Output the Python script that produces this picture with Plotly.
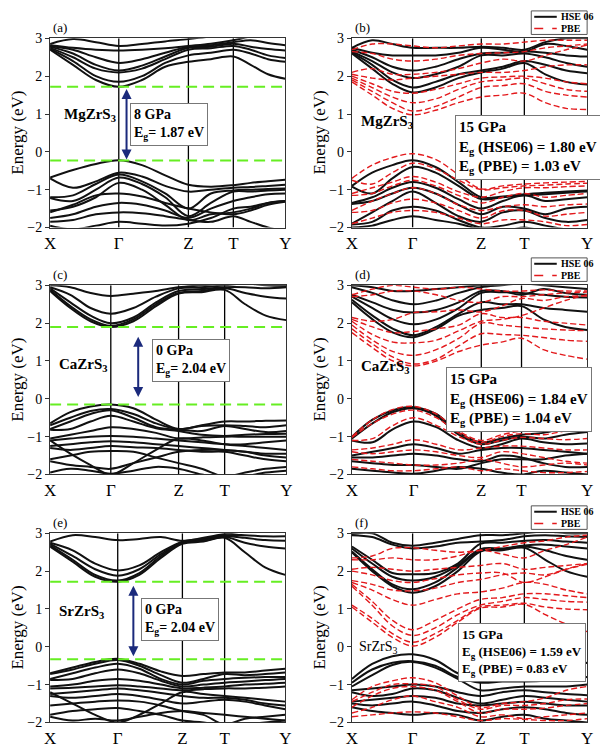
import plotly.graph_objects as go

W, H = 600, 752
FONT = "Liberation Serif"

KLABELS = ["X", "Γ", "Z", "T", "Y"]
# fractional positions of high-symmetry points along each panel's path
K_A = [0, 0.292, 0.588, 0.779, 1]
K_B = [0, 0.258, 0.550, 0.733, 1]
K_C = [0, 0.257, 0.544, 0.739, 1]
K_D = [0, 0.2625, 0.550, 0.721, 1]
K_E = [0, 0.2875, 0.5625, 0.742, 1]
K_F = [0, 0.258, 0.546, 0.733, 1]
# sampling of each segment (X-Γ, Γ-Z, Z-T, T-Y)
SEG_FRACS = [[0, 1/3, 2/3], [0, 1/3, 2/3], [0, 0.5], [0, 1/3, 2/3]]

# ---- band energies (eV) at samples: X,.,.,Γ,.,.,Z,.,T,.,.,Y ----
A_CB = [[2.70, 2.30, 1.90, 1.72, 1.90, 2.25, 2.38, 2.45, 2.52, 2.30, 2.05, 1.93],
        [2.72, 2.40, 2.00, 1.85, 2.00, 2.35, 2.55, 2.62, 2.70, 2.60, 2.45, 2.38],
        [2.75, 2.50, 2.20, 2.10, 2.20, 2.45, 2.70, 2.74, 2.80, 2.70, 2.55, 2.48],
        [2.78, 2.60, 2.30, 2.15, 2.28, 2.52, 2.75, 2.78, 2.86, 2.78, 2.72, 2.68],
        [2.80, 2.70, 2.50, 2.35, 2.45, 2.62, 2.78, 2.82, 2.90, 2.95, 2.88, 2.82],
        [2.82, 2.75, 2.70, 2.68, 2.70, 2.74, 2.80, 2.86, 2.95, 3.05, 3.10, 3.10],
        [2.85, 2.98, 2.90, 2.80, 2.85, 2.92, 2.98, 3.05, 3.10, 3.15, 3.15, 3.15]]
A_VB = [[-0.68, -0.48, -0.32, -0.22, -0.35, -0.62, -0.87, -0.92, -0.88, -0.82, -0.78, -0.74],
        [-0.70, -0.95, -0.78, -0.55, -0.65, -0.90, -1.05, -1.00, -0.95, -0.93, -0.90, -0.87],
        [-1.20, -1.15, -0.85, -0.60, -0.78, -1.10, -1.50, -1.10, -1.02, -1.00, -0.98, -0.97],
        [-1.22, -1.30, -1.00, -0.68, -0.85, -1.20, -1.70, -1.35, -1.05, -1.05, -1.02, -1.00],
        [-1.55, -1.45, -1.20, -0.82, -1.00, -1.40, -1.80, -1.65, -1.60, -1.50, -1.35, -1.30],
        [-1.60, -1.40, -1.15, -1.10, -1.18, -1.35, -1.50, -1.60, -1.65, -1.55, -1.40, -1.32],
        [-1.75, -1.65, -1.45, -1.35, -1.40, -1.55, -1.75, -1.50, -1.30, -1.20, -1.12, -1.10],
        [-1.85, -1.80, -1.65, -1.60, -1.62, -1.70, -1.80, -1.85, -1.70, -1.85, -2.00, -2.10],
        [-1.95, -2.05, -1.95, -1.85, -1.90, -1.95, -1.90, -1.75, -1.50, -1.45, -1.35, -1.30]]

B_HSE_CB = [[2.60, 2.20, 1.80, 1.57, 1.70, 1.95, 2.10, 2.20, 2.35, 2.05, 1.85, 1.78],
            [2.62, 2.30, 1.90, 1.70, 1.85, 2.05, 2.15, 2.25, 2.40, 2.30, 2.15, 2.08],
            [2.65, 2.40, 2.10, 1.95, 2.05, 2.25, 2.55, 2.55, 2.60, 2.50, 2.35, 2.25],
            [2.70, 2.50, 2.25, 2.15, 2.25, 2.45, 2.60, 2.62, 2.65, 2.62, 2.55, 2.52],
            [2.75, 2.62, 2.55, 2.55, 2.55, 2.62, 2.75, 2.70, 2.65, 2.85, 2.80, 2.70],
            [2.75, 2.95, 2.85, 2.75, 2.75, 2.75, 2.78, 2.75, 2.70, 2.90, 3.00, 3.00]]
B_HSE_VB = [[-0.90, -0.55, -0.35, -0.22, -0.40, -0.80, -1.20, -1.18, -1.12, -1.08, -1.05, -1.02],
            [-0.92, -1.10, -0.70, -0.40, -0.55, -0.90, -1.25, -1.20, -1.15, -1.12, -1.08, -1.05],
            [-1.35, -1.20, -0.95, -0.80, -0.95, -1.25, -1.50, -1.30, -1.15, -1.30, -1.25, -1.20],
            [-1.38, -1.30, -1.10, -0.95, -1.10, -1.40, -1.65, -1.45, -1.50, -1.65, -1.50, -1.45],
            [-1.90, -1.60, -1.30, -1.05, -1.35, -1.70, -1.85, -1.60, -1.55, -1.75, -1.85, -1.80],
            [-1.92, -1.85, -1.55, -1.45, -1.55, -1.80, -2.00, -1.95, -1.85, -1.95, -2.05, -2.10],
            [-2.00, -1.95, -1.80, -1.70, -1.80, -1.90, -2.05, -2.10, -2.00, -2.10, -2.10, -2.10]]
B_PBE_CB = [[1.85, 1.50, 1.15, 0.98, 1.10, 1.30, 1.45, 1.50, 1.55, 1.30, 1.15, 1.12],
            [1.90, 1.60, 1.30, 1.08, 1.20, 1.45, 1.70, 1.75, 1.80, 1.60, 1.50, 1.45],
            [1.95, 1.70, 1.45, 1.30, 1.40, 1.65, 1.85, 1.90, 1.95, 1.80, 1.65, 1.60],
            [2.00, 1.80, 1.60, 1.55, 1.65, 1.80, 1.95, 1.98, 2.00, 1.95, 1.85, 1.80],
            [2.05, 1.95, 1.90, 1.95, 2.00, 2.05, 2.10, 2.10, 2.15, 2.25, 2.30, 2.30],
            [2.10, 2.20, 2.05, 2.05, 2.10, 2.20, 2.35, 2.45, 2.40, 2.55, 2.70, 2.82],
            [2.65, 2.60, 2.45, 2.40, 2.45, 2.55, 2.60, 2.62, 2.65, 2.75, 2.80, 2.85],
            [2.70, 2.85, 2.85, 2.80, 2.75, 2.80, 2.85, 2.85, 2.90, 2.95, 2.95, 2.95]]
B_PBE_VB = [[-0.70, -0.35, -0.15, -0.05, -0.20, -0.60, -0.98, -0.90, -0.85, -0.82, -0.80, -0.78],
            [-0.75, -0.85, -0.55, -0.30, -0.45, -0.75, -1.00, -0.95, -0.90, -0.88, -0.85, -0.83],
            [-1.10, -0.95, -0.80, -0.65, -0.80, -1.05, -1.20, -1.05, -0.95, -0.95, -0.92, -0.90],
            [-1.15, -1.10, -0.90, -0.75, -0.90, -1.15, -1.35, -1.20, -1.10, -1.20, -1.15, -1.10],
            [-1.55, -1.30, -1.10, -0.95, -1.10, -1.40, -1.55, -1.45, -1.40, -1.45, -1.40, -1.38],
            [-1.60, -1.55, -1.35, -1.25, -1.35, -1.55, -1.75, -1.55, -1.55, -1.70, -1.65, -1.60],
            [-1.90, -1.75, -1.60, -1.55, -1.60, -1.75, -1.90, -1.80, -1.80, -1.85, -1.95, -1.92]]

C_CB = [[2.85, 2.40, 2.05, 1.90, 2.05, 2.45, 2.78, 2.82, 2.88, 2.50, 2.20, 2.08],
        [2.88, 2.45, 2.10, 1.93, 2.10, 2.50, 2.80, 2.85, 2.92, 2.80, 2.70, 2.65],
        [2.92, 2.55, 2.20, 2.00, 2.15, 2.55, 2.85, 2.90, 2.95, 2.95, 2.92, 2.95],
        [2.95, 2.75, 2.40, 2.25, 2.40, 2.70, 2.92, 2.95, 3.00, 3.05, 3.00, 2.98],
        [3.00, 2.95, 2.80, 2.72, 2.78, 2.85, 2.95, 3.00, 3.05, 3.10, 3.10, 3.10]]
C_VB = [[-0.65, -0.35, -0.20, -0.15, -0.25, -0.55, -0.80, -0.70, -0.60, -0.60, -0.58, -0.57],
        [-0.70, -0.50, -0.32, -0.27, -0.40, -0.65, -0.80, -0.72, -0.70, -0.72, -0.75, -0.70],
        [-0.80, -0.60, -0.40, -0.30, -0.50, -0.75, -0.82, -0.85, -0.72, -0.80, -0.88, -0.85],
        [-0.82, -0.80, -0.60, -0.45, -0.60, -0.78, -0.85, -0.95, -0.98, -0.95, -0.93, -0.92],
        [-1.05, -0.95, -0.85, -0.75, -0.80, -0.90, -1.05, -1.02, -1.00, -1.00, -1.00, -1.00],
        [-1.10, -1.05, -1.00, -0.98, -1.00, -1.05, -1.10, -1.15, -1.20, -1.20, -1.15, -1.10],
        [-1.25, -1.20, -1.15, -1.12, -1.15, -1.20, -1.25, -1.30, -1.35, -1.40, -1.50, -1.55],
        [-1.30, -1.35, -1.30, -1.25, -1.28, -1.30, -1.35, -1.40, -1.40, -1.50, -1.60, -1.65],
        [-1.60, -1.50, -1.40, -1.38, -1.40, -1.55, -1.70, -1.85, -2.05, -1.95, -1.85, -1.80],
        [-1.65, -1.75, -1.80, -1.85, -1.70, -1.55, -1.40, -1.35, -1.35, -1.40, -1.45, -1.45],
        [-1.95, -1.85, -1.90, -1.98, -1.90, -1.80, -1.85, -2.00, -2.10, -2.05, -1.95, -1.90],
        [-1.10, -1.45, -1.75, -2.00, -1.70, -1.35, -1.05, -1.10, -1.20, -1.25, -1.30, -1.35]]

D_HSE_CB = [[2.55, 2.10, 1.75, 1.63, 1.85, 2.20, 2.35, 2.40, 2.45, 2.10, 1.90, 1.82],
            [2.62, 2.20, 1.85, 1.68, 1.90, 2.25, 2.55, 2.50, 2.50, 2.40, 2.35, 2.30],
            [2.70, 2.40, 2.10, 1.97, 2.10, 2.40, 2.80, 2.82, 2.80, 2.75, 2.70, 2.68],
            [2.75, 2.55, 2.35, 2.28, 2.35, 2.55, 2.85, 2.85, 2.75, 2.90, 2.80, 2.75],
            [2.95, 2.80, 2.60, 2.50, 2.60, 2.80, 2.95, 3.00, 3.05, 3.00, 2.95, 2.90],
            [3.00, 2.95, 2.85, 2.85, 2.90, 2.95, 3.00, 3.05, 3.10, 3.10, 3.10, 3.10]]
D_HSE_VB = [[-1.00, -0.55, -0.30, -0.22, -0.40, -0.90, -1.15, -1.05, -0.95, -0.90, -0.75, -0.62],
            [-1.05, -0.65, -0.35, -0.25, -0.45, -0.95, -1.20, -1.10, -1.00, -1.05, -0.95, -0.88],
            [-1.10, -1.15, -0.80, -0.60, -0.75, -1.10, -1.30, -1.20, -1.05, -1.15, -1.20, -1.18],
            [-1.50, -1.40, -1.30, -1.20, -1.30, -1.45, -1.35, -1.30, -1.30, -1.35, -1.40, -1.45],
            [-1.55, -1.55, -1.50, -1.45, -1.50, -1.60, -1.65, -1.50, -1.55, -1.70, -1.80, -1.80],
            [-1.65, -1.70, -1.75, -1.75, -1.80, -1.85, -1.70, -1.60, -1.60, -1.60, -1.50, -1.45],
            [-1.85, -1.90, -1.95, -1.98, -1.90, -1.80, -1.85, -1.95, -2.00, -1.90, -1.95, -2.00]]
D_PBE_CB = [[1.75, 1.35, 1.00, 0.87, 1.00, 1.25, 1.42, 1.50, 1.60, 1.30, 1.15, 1.05],
            [1.85, 1.45, 1.10, 0.92, 1.05, 1.40, 1.72, 1.70, 1.68, 1.62, 1.55, 1.52],
            [1.95, 1.55, 1.25, 1.15, 1.30, 1.60, 2.00, 1.95, 1.90, 1.85, 1.82, 1.80],
            [2.05, 1.70, 1.50, 1.48, 1.55, 1.80, 2.05, 2.10, 2.20, 2.40, 2.60, 2.75],
            [2.10, 1.90, 1.75, 1.78, 1.85, 1.95, 2.25, 2.15, 2.15, 2.05, 2.00, 1.95],
            [2.15, 2.05, 2.10, 2.28, 2.30, 2.35, 2.30, 2.45, 2.65, 2.60, 2.70, 2.72],
            [2.70, 2.75, 2.85, 2.85, 2.75, 2.60, 2.55, 2.70, 2.70, 2.75, 2.80, 2.82],
            [2.75, 2.90, 3.00, 2.95, 2.90, 2.95, 2.90, 2.85, 2.85, 2.88, 2.85, 2.85]]
D_PBE_VB = [[-1.00, -0.55, -0.28, -0.20, -0.40, -0.85, -1.10, -0.95, -0.85, -0.80, -0.65, -0.58],
            [-1.02, -0.65, -0.40, -0.30, -0.50, -0.90, -1.15, -1.00, -0.92, -0.95, -0.85, -0.78],
            [-1.10, -1.05, -0.70, -0.50, -0.70, -1.00, -1.20, -1.10, -1.02, -1.05, -1.08, -1.05],
            [-1.35, -1.30, -1.20, -1.08, -1.20, -1.35, -1.30, -1.25, -1.25, -1.30, -1.35, -1.35],
            [-1.40, -1.45, -1.40, -1.35, -1.40, -1.50, -1.55, -1.40, -1.45, -1.55, -1.65, -1.70],
            [-1.60, -1.65, -1.70, -1.75, -1.75, -1.70, -1.60, -1.70, -1.80, -1.75, -1.70, -1.75],
            [-1.80, -1.85, -1.90, -1.90, -1.85, -1.80, -1.90, -1.85, -1.90, -1.95, -1.95, -1.92]]

E_CB = [[2.65, 2.25, 1.85, 1.72, 1.90, 2.35, 2.72, 2.78, 2.88, 2.50, 2.10, 1.90],
        [2.68, 2.30, 1.90, 1.75, 1.95, 2.40, 2.75, 2.80, 2.90, 2.75, 2.65, 2.60],
        [2.72, 2.40, 2.05, 1.88, 2.05, 2.45, 2.76, 2.82, 2.92, 2.88, 2.82, 2.80],
        [2.75, 2.55, 2.20, 2.02, 2.15, 2.50, 2.78, 2.85, 2.95, 2.95, 2.92, 2.92],
        [2.78, 2.95, 2.90, 2.82, 2.85, 2.90, 2.80, 2.88, 2.98, 3.05, 3.05, 3.05]]
E_VB = [[-0.70, -0.55, -0.40, -0.32, -0.45, -0.65, -0.77, -0.72, -0.68, -0.68, -0.63, -0.58],
        [-0.72, -0.60, -0.45, -0.35, -0.50, -0.75, -0.95, -0.85, -0.72, -0.75, -0.72, -0.68],
        [-0.85, -0.70, -0.55, -0.45, -0.58, -0.85, -1.00, -0.90, -0.85, -0.82, -0.80, -0.80],
        [-0.88, -0.85, -0.70, -0.60, -0.70, -0.90, -1.05, -1.00, -0.95, -0.92, -0.88, -0.85],
        [-1.05, -1.00, -0.90, -0.85, -0.90, -1.00, -1.10, -1.08, -1.05, -1.00, -0.98, -0.95],
        [-1.10, -1.08, -1.05, -1.02, -1.05, -1.10, -1.15, -1.12, -1.10, -1.10, -1.08, -1.05],
        [-1.25, -1.20, -1.15, -1.10, -1.15, -1.22, -1.30, -1.35, -1.35, -1.40, -1.50, -1.55],
        [-1.30, -1.35, -1.30, -1.25, -1.30, -1.40, -1.50, -1.45, -1.40, -1.45, -1.55, -1.65],
        [-1.55, -1.50, -1.45, -1.42, -1.45, -1.55, -1.70, -1.80, -2.05, -1.90, -1.85, -1.80],
        [-1.80, -1.70, -1.65, -1.62, -1.70, -1.80, -1.95, -2.00, -2.10, -2.05, -2.00, -1.95],
        [-1.85, -1.95, -1.90, -1.95, -1.85, -1.75, -1.70, -1.75, -1.80, -1.85, -1.90, -1.95],
        [-1.20, -1.50, -1.80, -2.00, -1.80, -1.50, -1.20, -1.25, -1.30, -1.35, -1.40, -1.45]]

F_HSE_CB = [[2.50, 2.00, 1.60, 1.43, 1.60, 2.00, 2.52, 2.55, 2.62, 2.30, 2.00, 1.85],
            [2.52, 2.05, 1.65, 1.52, 1.70, 2.10, 2.55, 2.58, 2.65, 2.55, 2.40, 2.30],
            [2.60, 2.20, 1.85, 1.75, 1.85, 2.15, 2.58, 2.60, 2.68, 2.70, 2.65, 2.60],
            [2.65, 2.30, 1.95, 1.92, 1.95, 2.20, 2.72, 2.75, 2.80, 2.82, 2.78, 2.75],
            [2.95, 2.90, 2.70, 2.60, 2.65, 2.75, 2.78, 2.82, 2.92, 2.95, 2.92, 2.90],
            [2.98, 3.00, 2.75, 2.67, 2.75, 2.85, 2.95, 2.95, 3.00, 3.05, 3.00, 3.00]]
F_HSE_VB = [[-0.85, -0.45, -0.25, -0.20, -0.35, -0.70, -0.90, -0.88, -0.85, -0.75, -0.55, -0.42],
            [-0.95, -0.60, -0.42, -0.38, -0.50, -0.80, -0.95, -0.92, -0.92, -0.90, -0.85, -0.80],
            [-1.05, -0.75, -0.48, -0.40, -0.55, -0.85, -1.15, -1.10, -1.05, -1.05, -1.05, -1.00],
            [-1.15, -1.10, -1.05, -1.00, -1.05, -1.20, -1.30, -1.20, -1.15, -1.20, -1.25, -1.28],
            [-1.20, -1.30, -1.25, -1.10, -1.15, -1.35, -1.50, -1.40, -1.30, -1.35, -1.40, -1.45],
            [-1.45, -1.40, -1.35, -1.30, -1.35, -1.50, -1.55, -1.50, -1.45, -1.50, -1.55, -1.55],
            [-1.50, -1.55, -1.50, -1.45, -1.55, -1.70, -1.75, -1.65, -1.60, -1.65, -1.75, -1.80],
            [-1.60, -1.70, -1.75, -1.80, -1.75, -1.80, -1.95, -1.85, -1.80, -1.90, -1.95, -2.00]]
F_PBE_CB = [[1.05, 0.65, 0.25, 0.02, 0.25, 0.65, 1.02, 1.05, 1.12, 0.85, 0.60, 0.40],
            [1.10, 0.75, 0.35, 0.12, 0.35, 0.70, 1.05, 1.10, 1.15, 1.05, 1.00, 0.98],
            [1.60, 1.10, 0.55, 0.30, 0.50, 0.85, 1.10, 1.20, 1.30, 1.25, 1.20, 1.18],
            [1.65, 1.20, 0.70, 0.45, 0.70, 1.00, 1.25, 1.30, 1.40, 1.40, 1.35, 1.30],
            [1.70, 1.50, 1.25, 1.10, 1.25, 1.40, 1.45, 1.55, 1.70, 1.65, 1.50, 1.40],
            [1.75, 1.65, 1.50, 1.48, 1.55, 1.70, 1.78, 1.90, 1.95, 1.90, 2.05, 2.18],
            [2.00, 1.90, 1.75, 1.70, 1.80, 1.90, 1.95, 1.95, 1.70, 1.85, 2.05, 2.20],
            [2.05, 2.10, 2.05, 2.00, 2.05, 2.10, 2.15, 2.20, 2.05, 2.10, 2.15, 2.20],
            [2.30, 2.30, 2.35, 2.30, 2.30, 2.40, 2.55, 2.45, 2.35, 2.55, 2.70, 2.90],
            [2.35, 2.40, 2.60, 2.62, 2.55, 2.50, 2.55, 2.65, 2.75, 2.80, 2.90, 2.95]]
F_PBE_VB = [[-1.40, -1.05, -0.90, -0.82, -0.95, -1.30, -1.60, -1.50, -1.45, -1.35, -1.15, -1.05],
            [-1.45, -1.20, -1.00, -0.98, -1.05, -1.40, -1.65, -1.55, -1.55, -1.50, -1.40, -1.38],
            [-1.60, -1.30, -1.10, -1.05, -1.15, -1.45, -1.75, -1.65, -1.65, -1.62, -1.55, -1.50],
            [-1.75, -1.60, -1.40, -1.30, -1.45, -1.60, -1.85, -1.80, -1.90, -1.85, -1.80, -1.75],
            [-1.85, -1.80, -1.75, -1.72, -1.75, -1.85, -1.95, -1.90, -1.92, -1.95, -1.95, -1.90]]

# band-edge reference lines (CBM, VBM) for the left panels
A_EDGES = [1.72, -0.23]
C_EDGES = [1.90, -0.15]
E_EDGES = [1.72, -0.33]

MATERIALS = ["MgZrS<sub>3</sub>", "MgZrS<sub>3</sub>", "CaZrS<sub>3</sub>",
             "CaZrS<sub>3</sub>", "SrZrS<sub>3</sub>", "SrZrS<sub>3</sub>"]
PANEL_TAGS = ["(a)", "(b)", "(c)", "(d)", "(e)", "(f)"]
INFO_TEXT = [
    "8 GPa<br>E<sub>g</sub>= 1.87 eV",
    "15 GPa<br>E<sub>g</sub> (HSE06) = 1.80 eV<br>E<sub>g</sub> (PBE) = 1.03 eV",
    "0 GPa<br>E<sub>g</sub>= 2.04 eV",
    "15 GPa<br>E<sub>g</sub> (HSE06) = 1.84 eV<br>E<sub>g</sub> (PBE) = 1.04 eV",
    "0 GPa<br>E<sub>g</sub>= 2.04 eV",
    "15 GPa<br>E<sub>g</sub> (HSE06) = 1.59 eV<br>E<sub>g</sub> (PBE) = 0.83 eV",
]

# ---- layout geometry (pixels) ----
RECTS = [(45, 285, 32, 225), (353, 593, 32, 225),
         (45, 286, 284, 477), (353, 593, 284, 477),
         (45, 285, 537, 730), (353, 593, 537, 730)]


def kgrid(K):
    xs = []
    for i, fr in enumerate(SEG_FRACS):
        for f in fr:
            xs.append(K[i] + f * (K[i + 1] - K[i]))
    xs.append(K[-1])
    return xs


fig = go.Figure()
layout = dict(width=W, height=H, margin=dict(l=0, r=0, t=0, b=0),
              paper_bgcolor="white", plot_bgcolor="white", showlegend=False,
              font=dict(family=FONT, color="black"))
annotations = []
shapes = []

BLACK = dict(color="#111111", width=2.0)
RED = dict(color="#e3191c", width=1.4, dash="6px,3px")
GREEN = dict(color="#66ee22", width=2, dash="11px,6px")
NAVY = "#1b2a7c"

panels = [
    dict(K=K_A, hse=A_CB + A_VB, pbe=None, edges=A_EDGES),
    dict(K=K_B, hse=B_HSE_CB + B_HSE_VB, pbe=B_PBE_CB + B_PBE_VB, edges=None),
    dict(K=K_C, hse=C_CB + C_VB, pbe=None, edges=C_EDGES),
    dict(K=K_D, hse=D_HSE_CB + D_HSE_VB, pbe=D_PBE_CB + D_PBE_VB, edges=None),
    dict(K=K_E, hse=E_CB + E_VB, pbe=None, edges=E_EDGES),
    dict(K=K_F, hse=F_HSE_CB + F_HSE_VB, pbe=F_PBE_CB + F_PBE_VB, edges=None),
]

# annotation placement (axis fraction x, energy y) per panel
MAT_POS = [(0.05, 0.98), (0.03, 0.80), (0.03, 0.90), (0.03, 0.85), (0.03, 0.93), (0.02, -0.03)]
BOX_POS = [(0.34, 1.29), (0.44, 0.98), (0.43, 1.58), (0.40, 0.85), (0.385, 1.29), (0.45, 0.64)]
ARROWS = {0: (0.325, 1.70, -0.20), 2: (0.373, 1.68, 0.05), 4: (0.354, 1.65, -0.25)}

for i, p in enumerate(panels):
    n = i + 1
    xa = "x" if n == 1 else f"x{n}"
    ya = "y" if n == 1 else f"y{n}"
    x0, x1, y0, y1 = RECTS[i]
    xs = kgrid(p["K"])
    # high-symmetry vertical lines
    for kv in p["K"][1:-1]:
        fig.add_trace(go.Scatter(x=[kv, kv], y=[-2, 3], mode="lines", line=dict(color="black", width=1.3),
                                 xaxis=xa, yaxis=ya, hoverinfo="skip"))
    for band in p["hse"]:
        fig.add_trace(go.Scatter(x=xs, y=band, mode="lines", line=dict(shape="spline", smoothing=1.0, **BLACK),
                                 xaxis=xa, yaxis=ya, hoverinfo="skip"))
    if p["pbe"]:
        for band in p["pbe"]:
            fig.add_trace(go.Scatter(x=xs, y=band, mode="lines", line=dict(shape="spline", smoothing=1.0, **RED),
                                     xaxis=xa, yaxis=ya, hoverinfo="skip"))
    if p["edges"]:
        for ev in p["edges"]:
            fig.add_trace(go.Scatter(x=[0, 1], y=[ev, ev], mode="lines", line=GREEN,
                                     xaxis=xa, yaxis=ya, hoverinfo="skip"))
    xkey = "xaxis" if n == 1 else f"xaxis{n}"
    ykey = "yaxis" if n == 1 else f"yaxis{n}"
    layout[xkey] = dict(domain=[x0 / W, x1 / W], range=[0, 1], anchor=ya,
                        tickvals=p["K"], ticktext=KLABELS, ticks="", showgrid=False, zeroline=False,
                        showline=True, mirror=True, linecolor="#333", linewidth=1.2,
                        tickfont=dict(family=FONT, size=17, color="black"))
    layout[ykey] = dict(domain=[1 - y1 / H, 1 - y0 / H], range=[-2, 3], anchor=xa,
                        tickvals=[-2, -1, 0, 1, 2, 3], ticks="outside", ticklen=4, tickwidth=1,
                        tickcolor="#333", showgrid=False, zeroline=False,
                        showline=True, mirror=True, linecolor="#333", linewidth=1.2,
                        tickfont=dict(family=FONT, size=14, color="black"))
    # y title
    annotations.append(dict(text="Energy (eV)", xref="paper", yref="paper", x=(x0 - 33) / W,
                            y=1 - (y0 + y1) / 2 / H, textangle=-90, showarrow=False,
                            font=dict(family=FONT, size=17), xanchor="center", yanchor="middle"))
    # panel tag
    annotations.append(dict(text=PANEL_TAGS[i], xref="paper", yref="paper", x=(x0 + 1) / W,
                            y=1 - (y0 - 1) / H, showarrow=False, xanchor="left", yanchor="bottom",
                            font=dict(family=FONT, size=13)))
    # material label
    mx, my = MAT_POS[i]
    mtxt = MATERIALS[i] if n == 6 else f"<b>{MATERIALS[i]}</b>"
    annotations.append(dict(text=mtxt, xref=xa, yref=ya, x=mx, y=my, showarrow=False,
                            xanchor="left", yanchor="middle",
                            font=dict(family=FONT, size=15 if n != 6 else 14)))
    # info box
    bx, by = BOX_POS[i]
    annotations.append(dict(text=f"<b>{INFO_TEXT[i]}</b>", xref=xa, yref=ya, x=bx, y=by,
                            showarrow=False, xanchor="left", yanchor="top", align="left",
                            bgcolor="white", bordercolor="#777", borderwidth=1, borderpad=3,
                            font=dict(family=FONT, size=15 if n in (2, 4) else (14 if n != 6 else 13))))
    if i in ARROWS:
        axv, ytop, ybot = ARROWS[i]
        annotations.append(dict(x=axv, y=ybot, ax=axv, ay=ytop, xref=xa, yref=ya, axref=xa, ayref=ya,
                                showarrow=True, arrowhead=2, startarrowhead=2, arrowside="end+start",
                                arrowsize=1, arrowwidth=2, arrowcolor=NAVY, text=""))
    # legend for HSE/PBE panels
    if p["pbe"]:
        lx0, lx1 = 536, 593
        ly0 = y0 - 28
        ly1 = y0 - 4
        shapes.append(dict(type="rect", xref="paper", yref="paper", x0=lx0 / W, x1=lx1 / W,
                           y0=1 - ly1 / H, y1=1 - ly0 / H, line=dict(color="#555", width=1),
                           fillcolor="white"))
        for j, (lbl, st) in enumerate([("HSE 06", BLACK), ("PBE", RED)]):
            yy = ly0 + 6 + j * 12
            shapes.append(dict(type="line", xref="paper", yref="paper", x0=(lx0 + 3) / W,
                               x1=(lx0 + 26) / W, y0=1 - yy / H, y1=1 - yy / H,
                               line=dict(color=st["color"], width=st["width"], dash="dash" if j else "solid")))
            annotations.append(dict(text=f"<b>{lbl}</b>", xref="paper", yref="paper", x=(lx0 + 28) / W,
                                    y=1 - yy / H, showarrow=False, xanchor="left", yanchor="middle",
                                    font=dict(family=FONT, size=10)))

layout["annotations"] = annotations
layout["shapes"] = shapes
fig.update_layout(**layout)
fig.write_html("out.html")
